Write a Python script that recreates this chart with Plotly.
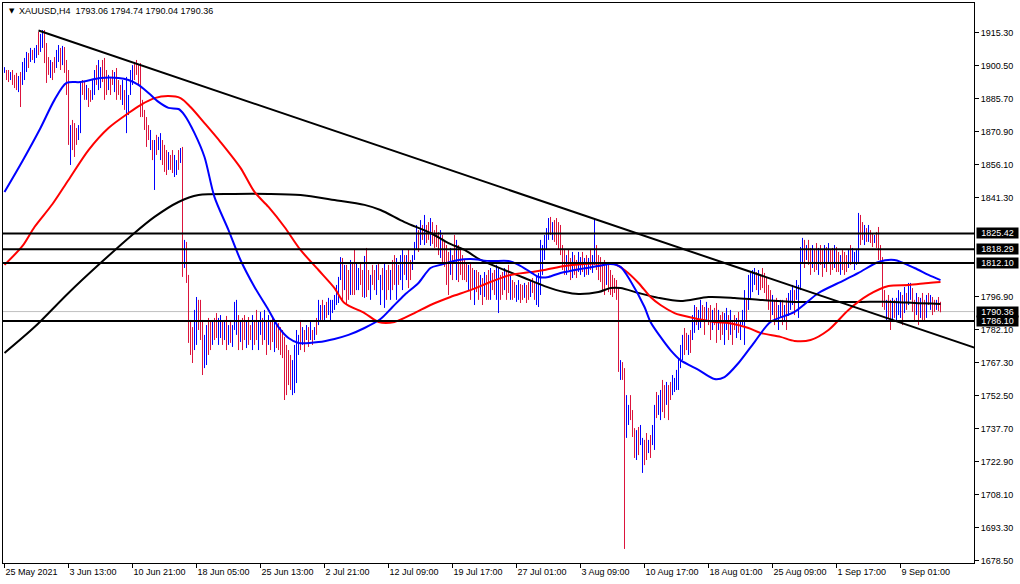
import plotly.graph_objects as go

# ---------------- data ----------------
chart_title = "XAUUSD,H4\u00a0\u00a01793.06 1794.74 1790.04 1790.36"

x_tick_idx = [0, 32, 64, 96, 128, 160, 192, 224, 256, 288, 320, 352, 384, 416, 448]
x_tick_text = ["25 May 2021", "3 Jun 13:00", "10 Jun 21:00", "18 Jun 05:00", "25 Jun 13:00",
               "2 Jul 21:00", "12 Jul 09:00", "19 Jul 17:00", "27 Jul 01:00", "3 Aug 09:00",
               "10 Aug 17:00", "18 Aug 01:00", "25 Aug 09:00", "1 Sep 17:00", "9 Sep 01:00"]

y_tick_vals = [1915.30, 1900.50, 1885.70, 1870.90, 1856.10, 1841.30, 1796.90, 1782.10,
               1767.30, 1752.50, 1737.70, 1722.90, 1708.10, 1693.30, 1678.50]

bar_high = [
    1900.0, 1898.7, 1898.7, 1897.8, 1898.7, 1896.5, 1897.4, 1896.0, 1897.8, 1902.3,
    1904.1, 1906.8, 1906.3, 1908.6, 1907.7, 1908.6, 1909.9, 1915.8, 1914.9, 1916.6,
    1916.6, 1910.8, 1904.5, 1903.2, 1902.3, 1904.5, 1907.7, 1909.9, 1908.6, 1909.5,
    1909.0, 1903.2, 1898.7, 1874.0, 1876.3, 1874.9, 1872.7, 1874.0, 1892.9, 1894.2,
    1893.3, 1892.0, 1890.6, 1889.7, 1894.2, 1898.7, 1900.9, 1903.2, 1900.0, 1903.2,
    1904.1, 1898.7, 1896.5, 1895.1, 1898.7, 1897.8, 1899.6, 1894.2, 1892.0, 1894.2,
    1889.7, 1895.6, 1887.5, 1898.7, 1900.9, 1902.3, 1903.2, 1900.9, 1901.8, 1885.3,
    1880.8, 1877.6, 1874.0, 1871.8, 1867.3, 1867.3, 1869.6, 1868.7, 1870.4, 1867.3,
    1865.1, 1862.8, 1861.9, 1860.6, 1862.8, 1860.6, 1858.3, 1862.8, 1863.7, 1864.2,
    1822.5, 1821.6, 1806.8, 1786.6, 1783.4, 1791.1, 1796.9, 1795.6, 1795.6, 1786.6,
    1779.9, 1784.3, 1787.5, 1785.7, 1786.6, 1787.5, 1789.7, 1787.5, 1788.8, 1785.7,
    1786.6, 1788.4, 1784.3, 1786.6, 1784.3, 1794.7, 1795.6, 1788.8, 1786.6, 1787.5,
    1788.8, 1785.7, 1787.9, 1784.3, 1788.8, 1786.6, 1791.1, 1785.7, 1790.2, 1787.5,
    1791.1, 1786.6, 1788.8, 1786.6, 1787.5, 1785.7, 1784.3, 1785.2, 1783.4, 1782.1,
    1779.0, 1775.4, 1773.1, 1770.9, 1768.6, 1775.4, 1782.1, 1779.9, 1786.6, 1783.4,
    1782.1, 1784.3, 1783.4, 1785.7, 1782.1, 1783.4, 1787.5, 1795.6, 1793.3, 1795.6,
    1793.3, 1794.7, 1796.5, 1795.6, 1795.6, 1797.8, 1802.3, 1805.9, 1814.8, 1814.4,
    1811.3, 1811.3, 1809.0, 1813.5, 1812.6, 1818.0, 1812.6, 1809.9, 1812.6, 1809.0,
    1815.3, 1818.9, 1809.0, 1806.8, 1811.3, 1809.0, 1811.3, 1812.6, 1806.8, 1809.9,
    1812.1, 1809.0, 1811.3, 1809.0, 1813.5, 1815.7, 1814.4, 1811.3, 1815.7, 1818.0,
    1815.7, 1815.7, 1818.0, 1813.5, 1815.7, 1821.6, 1829.2, 1826.9, 1831.4, 1829.2,
    1833.7, 1829.2, 1830.5, 1832.3, 1830.5, 1826.9, 1829.2, 1826.0, 1826.9, 1824.7,
    1822.5, 1820.2, 1817.1, 1818.9, 1815.7, 1824.7, 1822.5, 1820.2, 1818.0, 1815.7,
    1813.5, 1812.6, 1811.3, 1812.6, 1809.9, 1809.0, 1809.0, 1808.1, 1806.8, 1805.4,
    1808.1, 1806.8, 1809.0, 1809.9, 1807.7, 1809.0, 1811.3, 1809.9, 1806.8, 1808.1,
    1809.9, 1809.0, 1811.3, 1806.8, 1804.5, 1803.6, 1802.3, 1804.5, 1802.7, 1802.3,
    1803.2, 1802.3, 1803.6, 1804.5, 1805.4, 1803.2, 1806.8, 1807.7, 1822.5, 1820.2,
    1824.7, 1827.8, 1832.3, 1832.8, 1830.5, 1831.4, 1832.3, 1830.5, 1829.2, 1820.2,
    1818.0, 1815.7, 1818.0, 1814.4, 1817.1, 1815.7, 1813.5, 1817.1, 1814.8, 1817.1,
    1814.4, 1815.7, 1814.4, 1818.0, 1815.7, 1832.3, 1820.2, 1815.7, 1814.8, 1812.6,
    1813.5, 1811.3, 1812.6, 1809.0, 1806.8, 1805.4, 1804.5, 1801.4, 1768.6, 1767.7,
    1765.0, 1752.9, 1748.5, 1752.9, 1746.2, 1738.1, 1737.2, 1738.6, 1739.5, 1733.7,
    1732.8, 1735.9, 1732.8, 1735.0, 1739.5, 1748.5, 1754.3, 1752.9, 1755.2, 1759.7,
    1757.4, 1758.8, 1757.4, 1758.8, 1761.9, 1760.6, 1764.2, 1769.5, 1775.4, 1779.9,
    1783.0, 1780.8, 1779.9, 1782.1, 1788.8, 1793.3, 1792.4, 1791.1, 1795.6, 1793.3,
    1792.4, 1794.7, 1792.0, 1793.3, 1791.1, 1792.0, 1794.2, 1791.1, 1788.8, 1790.2,
    1789.7, 1792.0, 1788.8, 1791.1, 1786.6, 1788.8, 1787.5, 1790.2, 1785.7, 1791.1,
    1800.0, 1795.6, 1806.8, 1807.7, 1809.0, 1809.9, 1808.1, 1809.0, 1806.8, 1809.9,
    1807.7, 1805.4, 1802.3, 1800.0, 1797.8, 1795.6, 1796.5, 1793.3, 1795.6, 1795.6,
    1793.3, 1796.5, 1798.7, 1800.0, 1802.3, 1800.0, 1804.5, 1802.3, 1819.3, 1823.4,
    1822.5, 1820.2, 1822.5, 1818.9, 1820.2, 1818.0, 1821.1, 1818.9, 1820.2, 1818.0,
    1820.2, 1819.3, 1821.1, 1818.0, 1818.9, 1820.2, 1819.3, 1817.1, 1815.7, 1818.0,
    1817.1, 1815.7, 1818.0, 1820.2, 1818.9, 1817.1, 1818.0, 1834.6, 1833.7, 1830.5,
    1829.2, 1827.8, 1829.2, 1826.9, 1825.6, 1824.7, 1826.0, 1828.3, 1820.2, 1814.8,
    1800.0, 1795.6, 1797.8, 1795.6, 1796.5, 1795.6, 1796.5, 1800.0, 1799.1, 1797.8,
    1801.4, 1798.7, 1803.2, 1803.2, 1800.9, 1795.6, 1798.7, 1796.9, 1796.5, 1798.7,
    1795.6, 1797.8, 1798.7, 1797.8, 1796.9, 1795.6, 1795.6, 1796.9, 1794.74,
]

bar_low = [
    1897.4, 1894.2, 1893.3, 1894.2, 1892.0, 1890.6, 1889.7, 1888.8, 1882.1, 1892.0,
    1894.2, 1897.8, 1899.6, 1902.3, 1903.2, 1901.8, 1904.1, 1905.4, 1906.8, 1908.6,
    1901.8, 1892.9, 1896.5, 1895.1, 1894.2, 1897.4, 1899.6, 1902.3, 1898.7, 1900.9,
    1897.4, 1887.5, 1865.1, 1856.1, 1862.8, 1859.7, 1865.1, 1867.3, 1870.4, 1887.5,
    1885.3, 1885.3, 1882.1, 1884.4, 1885.3, 1887.5, 1892.0, 1889.7, 1890.6, 1893.3,
    1885.3, 1887.5, 1889.7, 1887.5, 1892.0, 1888.8, 1885.3, 1887.5, 1885.3, 1883.0,
    1880.8, 1870.4, 1878.5, 1887.5, 1892.0, 1894.2, 1896.5, 1892.0, 1877.6, 1877.6,
    1871.8, 1864.2, 1867.3, 1862.8, 1858.3, 1844.9, 1860.6, 1862.8, 1858.3, 1856.1,
    1853.0, 1851.6, 1853.9, 1853.9, 1852.5, 1850.7, 1851.6, 1853.9, 1857.0, 1805.9,
    1809.9, 1803.2, 1776.3, 1770.9, 1767.3, 1773.1, 1775.4, 1782.1, 1777.6, 1761.9,
    1765.0, 1766.4, 1770.9, 1773.1, 1775.4, 1777.6, 1778.5, 1775.4, 1778.5, 1775.4,
    1777.6, 1773.1, 1775.4, 1776.3, 1774.5, 1782.1, 1779.9, 1773.1, 1776.7, 1773.1,
    1777.6, 1774.0, 1775.4, 1777.6, 1773.1, 1775.4, 1777.6, 1773.1, 1779.9, 1775.4,
    1777.6, 1770.9, 1775.4, 1773.1, 1776.7, 1772.2, 1774.0, 1773.1, 1770.9, 1769.5,
    1750.7, 1752.9, 1757.4, 1755.2, 1752.9, 1753.8, 1758.3, 1770.9, 1773.1, 1775.4,
    1772.2, 1777.6, 1774.5, 1777.6, 1775.4, 1777.6, 1779.9, 1784.3, 1786.6, 1786.6,
    1785.7, 1787.5, 1788.8, 1785.7, 1789.7, 1791.1, 1793.3, 1794.2, 1804.5, 1795.6,
    1800.0, 1793.3, 1795.6, 1797.8, 1797.8, 1797.8, 1800.0, 1800.0, 1802.3, 1796.9,
    1796.5, 1796.9, 1800.0, 1795.6, 1802.3, 1800.0, 1797.8, 1804.5, 1793.3, 1800.0,
    1792.0, 1795.6, 1800.0, 1795.6, 1800.0, 1802.3, 1795.6, 1802.3, 1804.5, 1800.0,
    1806.8, 1804.5, 1800.9, 1804.5, 1809.0, 1813.5, 1818.0, 1817.1, 1820.2, 1822.5,
    1820.2, 1821.1, 1822.5, 1819.8, 1820.7, 1818.9, 1819.3, 1815.7, 1814.4, 1812.6,
    1810.4, 1802.3, 1797.8, 1806.8, 1804.5, 1813.5, 1804.5, 1803.6, 1806.8, 1804.5,
    1804.5, 1803.6, 1800.0, 1795.6, 1800.0, 1793.3, 1799.1, 1795.6, 1797.8, 1793.3,
    1796.9, 1795.6, 1795.6, 1795.6, 1800.0, 1797.8, 1795.6, 1789.7, 1795.6, 1797.8,
    1800.0, 1795.6, 1798.7, 1795.6, 1795.6, 1796.5, 1794.7, 1795.6, 1794.2, 1795.6,
    1796.5, 1794.2, 1795.6, 1796.9, 1798.7, 1795.6, 1793.3, 1792.4, 1797.8, 1806.8,
    1813.5, 1818.0, 1822.5, 1824.7, 1822.5, 1821.6, 1820.2, 1818.0, 1815.7, 1809.0,
    1806.8, 1806.8, 1809.0, 1804.5, 1805.4, 1806.8, 1805.4, 1808.1, 1806.8, 1808.1,
    1805.9, 1806.8, 1806.8, 1809.0, 1807.7, 1811.3, 1809.0, 1804.5, 1803.6, 1800.0,
    1797.8, 1802.3, 1799.1, 1797.8, 1796.9, 1798.7, 1795.6, 1763.3, 1759.7, 1759.7,
    1683.9, 1733.7, 1739.5, 1741.7, 1734.1, 1724.7, 1723.8, 1726.0, 1730.5, 1718.0,
    1721.5, 1723.8, 1726.9, 1724.7, 1730.5, 1728.3, 1742.6, 1744.0, 1741.7, 1745.3,
    1742.6, 1748.5, 1741.7, 1750.7, 1752.9, 1754.3, 1755.2, 1755.2, 1765.0, 1768.6,
    1770.9, 1773.1, 1770.9, 1771.8, 1777.6, 1780.8, 1784.3, 1782.1, 1783.0, 1786.6,
    1779.9, 1786.6, 1784.3, 1777.6, 1782.1, 1784.3, 1776.3, 1782.1, 1777.6, 1779.9,
    1775.4, 1782.1, 1777.6, 1779.9, 1775.4, 1782.1, 1778.5, 1780.8, 1777.6, 1784.3,
    1775.4, 1786.6, 1791.1, 1795.6, 1799.1, 1802.3, 1800.0, 1797.8, 1800.0, 1800.9,
    1798.7, 1795.6, 1791.1, 1786.6, 1788.8, 1784.3, 1786.6, 1782.1, 1787.9, 1784.3,
    1785.7, 1782.1, 1788.4, 1791.1, 1793.3, 1788.8, 1795.6, 1787.5, 1800.0, 1812.6,
    1809.9, 1813.5, 1811.3, 1806.8, 1809.9, 1808.1, 1809.0, 1806.8, 1811.3, 1805.9,
    1809.9, 1808.1, 1812.6, 1806.8, 1809.0, 1809.9, 1808.1, 1808.1, 1806.8, 1809.0,
    1806.8, 1808.1, 1809.9, 1811.3, 1812.6, 1809.0, 1811.3, 1812.6, 1820.2, 1822.5,
    1820.2, 1821.6, 1821.6, 1821.1, 1819.3, 1821.1, 1818.9, 1813.5, 1812.6, 1792.4,
    1791.1, 1785.7, 1787.5, 1782.1, 1786.6, 1787.5, 1785.7, 1788.8, 1787.5, 1784.3,
    1789.7, 1791.1, 1793.3, 1795.6, 1790.2, 1785.7, 1788.8, 1784.3, 1787.5, 1786.6,
    1785.7, 1787.5, 1793.3, 1791.1, 1788.8, 1790.2, 1791.1, 1790.6, 1790.04,
]

# u = bullish bar, d = bearish bar
bar_dir = "".join([
    "uddudddudu", "uududuuduu", "dddudduudu", "ddduddduud", "dudduuduud",
    "dduddudddu", "duuuuddddd", "dddududuud", "ddudduudud", "udddduuddd",
    "uuddudduud", "ududuuudud", "duddudduud", "ududdudddd", "dddduuuudu",
    "dudududuud", "uduuuuuuud", "uddudduudd", "udduddudud", "uddudduduu",
    "dudduuudud", "udduddddud", "dddudduddd", "ddudduddud", "uddudduudd",
    "uddudduudd", "uddudduuuu", "uuududdddd", "duddudduud", "ududuudddd",
    "duddddddud", "duuddduduu", "dduduuduud", "dudduuuuuu", "dduduuduud",
    "dudduddudd", "uududduduu", "uduuuududd", "ddddudduud", "uduuuduuuu",
    "dudduddudd", "ududduddud", "dduduuuudd", "ududdudddd", "dudduduuud",
    "uduuddudud", "dududdudd",
])

# moving averages (bar index, price)
ma_fast_idx = [0, 9, 18, 25, 31, 38, 48, 57, 62, 67, 72, 77, 82, 87, 90, 95, 100, 105, 112, 118,
               125, 132, 137, 142, 147, 157, 165, 172, 180, 188, 194, 200, 207, 213, 218, 227,
               233, 243, 252, 257, 263, 267, 272, 278, 288, 297, 303, 308, 313, 320, 323, 328,
               333, 338, 347, 355, 360, 367, 375, 383, 395, 407, 417, 427, 437, 445, 455, 462, 468]
ma_fast_val = [1844.0, 1857.9, 1872.7, 1885.3, 1892.9, 1893.3, 1895.1, 1895.1, 1894.2, 1892.0,
               1888.4, 1884.4, 1881.7, 1881.2, 1878.5, 1870.4, 1859.7, 1841.7, 1826.9, 1813.5,
               1801.4, 1791.1, 1783.4, 1778.5, 1776.3, 1776.7, 1778.1, 1779.9, 1783.0, 1787.0,
               1792.4, 1797.8, 1803.2, 1809.9, 1811.3, 1813.5, 1813.9, 1813.0, 1813.0, 1811.3,
               1808.1, 1805.9, 1805.9, 1807.7, 1809.5, 1810.8, 1811.7, 1810.4, 1804.1, 1792.4,
               1785.7, 1779.0, 1773.1, 1768.6, 1764.2, 1760.1, 1761.0, 1767.3, 1776.7, 1785.7,
               1790.2, 1798.7, 1803.2, 1807.7, 1812.6, 1813.5, 1809.9, 1806.8, 1804.5]

ma_mid_idx = [0, 9, 15, 24, 32, 42, 52, 62, 68, 75, 82, 88, 93, 100, 108, 118, 125, 132, 140, 148,
              157, 165, 170, 180, 187, 195, 205, 213, 223, 233, 243, 253, 263, 270, 280, 290, 305,
              310, 317, 323, 328, 335, 338, 355, 362, 372, 378, 388, 395, 403, 412, 422, 432, 442,
              452, 462, 468]
ma_mid_val = [1811.3, 1819.8, 1828.3, 1838.6, 1849.4, 1862.8, 1872.7, 1879.4, 1883.0, 1886.1,
              1887.0, 1886.1, 1882.1, 1874.9, 1866.4, 1854.8, 1844.0, 1837.3, 1828.3, 1818.0,
              1809.0, 1800.9, 1794.2, 1789.7, 1785.7, 1785.7, 1789.7, 1793.3, 1796.9, 1800.0,
              1803.6, 1806.8, 1808.1, 1809.0, 1810.8, 1811.7, 1811.7, 1809.0, 1803.2, 1796.9,
              1793.3, 1789.7, 1788.8, 1785.7, 1785.2, 1783.0, 1780.8, 1779.0, 1777.2, 1777.6,
              1782.1, 1791.1, 1797.8, 1801.8, 1802.3, 1803.2, 1803.6]

ma_slow_idx = [0, 15, 32, 48, 65, 75, 87, 97, 115, 132, 148, 165, 180, 188, 200, 213, 222, 230,
               238, 250, 260, 270, 280, 287, 297, 303, 308, 317, 327, 338, 352, 365, 378, 395,
               412, 428, 445, 455, 468]
ma_slow_val = [1771.8, 1783.4, 1798.7, 1812.1, 1825.6, 1832.8, 1839.5, 1842.6, 1843.1, 1843.1,
               1842.6, 1840.4, 1838.2, 1835.9, 1830.5, 1825.6, 1821.1, 1818.0, 1813.5, 1809.0,
               1805.4, 1801.8, 1799.1, 1798.2, 1799.1, 1800.9, 1800.9, 1798.7, 1796.5, 1795.1,
               1796.9, 1796.5, 1795.6, 1794.7, 1794.7, 1794.7, 1794.7, 1794.2, 1793.8]

trend_idx = [17, 485.5]
trend_val = [1916.4, 1774.0]

level_prices = [1825.42, 1818.29, 1812.10, 1786.10]
current_price = 1790.36

# ---------------- figure ----------------
n = len(bar_high)
bar_x = list(range(n))
bar_open = [l if d == "u" else h for h, l, d in zip(bar_high, bar_low, bar_dir)]
bar_close = [h if d == "u" else l for h, l, d in zip(bar_high, bar_low, bar_dir)]

FONT = "Liberation Sans, Arial, sans-serif"
FS = 9

fig = go.Figure()

fig.add_shape(type="line", xref="paper", x0=0, x1=1, yref="y", y0=current_price, y1=current_price,
              line=dict(color="#C0C0C0", width=1), layer="below")

fig.add_trace(go.Ohlc(
    x=bar_x, open=bar_open, high=bar_high, low=bar_low, close=bar_close,
    increasing=dict(line=dict(color="#0000FF", width=1)),
    decreasing=dict(line=dict(color="#DC143C", width=1)),
    tickwidth=0, hoverinfo="skip", showlegend=False,
))

for idx, val, col in [(ma_slow_idx, ma_slow_val, "#000000"),
                      (ma_mid_idx, ma_mid_val, "#FF0000"),
                      (ma_fast_idx, ma_fast_val, "#0000FF")]:
    fig.add_trace(go.Scatter(x=idx, y=val, mode="lines",
                             line=dict(color=col, width=2, shape="spline", smoothing=0.8),
                             hoverinfo="skip", showlegend=False))

fig.add_trace(go.Scatter(x=trend_idx, y=trend_val, mode="lines",
                         line=dict(color="#000000", width=2), hoverinfo="skip", showlegend=False))

for p in level_prices:
    fig.add_shape(type="line", xref="paper", x0=0, x1=1, yref="y", y0=p, y1=p,
                  line=dict(color="#000000", width=2))

annotations = []
for p in [current_price] + level_prices:
    annotations.append(dict(
        xref="paper", x=1, xanchor="left", xshift=2, yref="y", y=p, yanchor="middle",
        text=f"{p:.2f}", showarrow=False, bgcolor="#000000", borderpad=0,
        width=41, height=10, align="center",
        font=dict(family=FONT, size=FS, color="#FFFFFF"),
    ))
annotations.append(dict(xref="paper", x=0, xanchor="left", xshift=4, yref="paper", y=1,
                        yanchor="middle", yshift=-8, text="▼", showarrow=False,
                        font=dict(family="DejaVu Sans", size=7, color="#000000")))
annotations.append(dict(xref="paper", x=0, xanchor="left", xshift=14, yref="paper", y=1,
                        yanchor="middle", yshift=-8, text=chart_title, showarrow=False,
                        font=dict(family=FONT, size=FS, color="#000000")))

fig.update_layout(
    width=1020, height=584,
    margin=dict(l=3, r=46, t=3, b=21, pad=0),
    paper_bgcolor="#FFFFFF", plot_bgcolor="#FFFFFF",
    showlegend=False,
    font=dict(family=FONT, size=FS, color="#000000"),
    annotations=annotations,
    xaxis=dict(
        range=[-0.75, 484.75], showgrid=False, zeroline=False, automargin=False,
        showline=True, linecolor="#000000", linewidth=1, mirror=True,
        ticks="outside", ticklen=4, tickcolor="#000000", tickwidth=1, tickangle=0,
        tickvals=x_tick_idx, ticktext=x_tick_text, ticklabelposition="outside right",
        tickfont=dict(family=FONT, size=FS, color="#000000"),
        rangeslider=dict(visible=False), fixedrange=True,
    ),
    yaxis=dict(
        side="right", range=[1677.6, 1928.75], showgrid=False, zeroline=False, automargin=False,
        showline=True, linecolor="#000000", linewidth=1, mirror=True,
        ticks="outside", ticklen=4, tickcolor="#000000", tickwidth=1,
        tickvals=y_tick_vals, ticktext=[f"{v:.2f}" for v in y_tick_vals],
        tickfont=dict(family=FONT, size=FS, color="#000000"), fixedrange=True,
    ),
)

fig.write_html(
    "out.html",
    config={"displayModeBar": False},
    post_script="document.body.style.margin='0px';document.body.style.overflow='hidden';",
)
